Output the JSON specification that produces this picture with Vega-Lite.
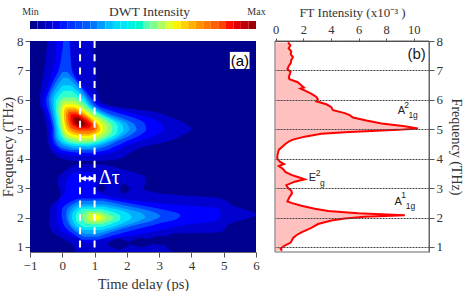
{
"$schema":"https://vega.github.io/schema/vega-lite/v6.json",
"padding":{"left":0,"top":4,"right":0,"bottom":0},
"background":"white",
"bounds":"flush",
"spacing":12,
"config":{"view":{"stroke":null},"font":"Liberation Serif","axis":{"labelFont":"Liberation Serif","titleFont":"Liberation Serif","labelColor":"#333","titleColor":"#333","tickColor":"#555","domainColor":"#666","grid":false,"titleFontWeight":"normal","labelOverlap":false,"tickCount":20,"format":"d"}},
"datasets":{
"heat":[
{"b":"bg","l":0,"f":0.83,"a":-1,"c":6},{"b":"bg","l":0,"f":8,"a":-1,"c":6},
{"b":"u1","l":1,"f":8,"a":-0.47,"c":0.95},{"b":"u1","l":1,"f":7.5,"a":-0.5,"c":0.95},{"b":"u1","l":1,"f":7,"a":-0.57,"c":1.05},{"b":"u1","l":1,"f":6.5,"a":-0.65,"c":1.05},{"b":"u1","l":1,"f":6,"a":-0.7,"c":1.15},{"b":"u1","l":1,"f":5.8,"a":-0.68,"c":1.5},{"b":"u1","l":1,"f":5.6,"a":-0.6,"c":2.8},{"b":"u1","l":1,"f":5.4,"a":-0.55,"c":3.4},{"b":"u1","l":1,"f":5.2,"a":-0.5,"c":3.8},{"b":"u1","l":1,"f":5,"a":-0.48,"c":4},{"b":"u1","l":1,"f":4.8,"a":-0.47,"c":3.7},{"b":"u1","l":1,"f":4.6,"a":-0.45,"c":3.3},{"b":"u1","l":1,"f":4.4,"a":-0.4,"c":2.5},{"b":"u1","l":1,"f":4.2,"a":-0.3,"c":2.1},{"b":"u1","l":1,"f":4,"a":0,"c":1.8},{"b":"u1","l":1,"f":3.92,"a":0.4,"c":1.1},
{"b":"d1","l":1,"f":3.8,"a":0.4,"c":1.3},{"b":"d1","l":1,"f":3.6,"a":0.1,"c":2},{"b":"d1","l":1,"f":3.4,"a":-0.1,"c":2.55},{"b":"d1","l":1,"f":3.2,"a":-0.15,"c":2.6},{"b":"d1","l":1,"f":3,"a":-0.1,"c":2.5},{"b":"d1","l":1,"f":2.8,"a":-0.05,"c":3.2},{"b":"d1","l":1,"f":2.65,"a":-0.1,"c":4.9},{"b":"d1","l":1,"f":2.4,"a":-0.35,"c":5.3},{"b":"d1","l":1,"f":2.1,"a":-0.4,"c":6},{"b":"d1","l":1,"f":1.8,"a":-0.4,"c":5.2},{"b":"d1","l":1,"f":1.5,"a":-0.3,"c":4.9},{"b":"d1","l":1,"f":1.45,"a":-0.25,"c":3.4},{"b":"d1","l":1,"f":1.3,"a":0,"c":3.2},{"b":"d1","l":1,"f":1.1,"a":0.3,"c":3.2},{"b":"d1","l":1,"f":0.9,"a":0.4,"c":3.3},{"b":"d1","l":1,"f":0.83,"a":0.4,"c":3.5},
{"b":"h1","l":0,"f":3.14,"a":1.23,"c":1.23},{"b":"h1","l":0,"f":3,"a":1.1,"c":1.36},{"b":"h1","l":0,"f":2.86,"a":1.23,"c":1.23},
{"b":"h2","l":0,"f":3.16,"a":1.93,"c":1.93},{"b":"h2","l":0,"f":2.98,"a":1.76,"c":2.1},{"b":"h2","l":0,"f":2.8,"a":1.93,"c":1.93},
{"b":"h3","l":0,"f":1.3,"a":1.75,"c":1.75},{"b":"h3","l":0,"f":1.1,"a":1.4,"c":2.1},{"b":"h3","l":0,"f":0.9,"a":1.75,"c":1.75},
{"b":"h4","l":0,"f":1.32,"a":2.45,"c":2.45},{"b":"h4","l":0,"f":1.15,"a":2.05,"c":2.85},{"b":"h4","l":0,"f":0.98,"a":2.45,"c":2.45},
{"b":"h5","l":0,"f":1.39,"a":3.05,"c":3.05},{"b":"h5","l":0,"f":1.22,"a":2.6,"c":3.5},{"b":"h5","l":0,"f":1.05,"a":3.05,"c":3.05},
{"b":"u2","l":2,"f":8,"a":-0.2,"c":0.27},{"b":"u2","l":2,"f":7.5,"a":-0.2,"c":0.27},{"b":"u2","l":2,"f":7,"a":-0.3,"c":0.35},{"b":"u2","l":2,"f":6.6,"a":-0.42,"c":0.6},{"b":"u2","l":2,"f":6.2,"a":-0.55,"c":0.9},{"b":"u2","l":2,"f":6,"a":-0.6,"c":1},{"b":"u2","l":2,"f":5.8,"a":-0.58,"c":1.25},{"b":"u2","l":2,"f":5.6,"a":-0.5,"c":2},{"b":"u2","l":2,"f":5.4,"a":-0.45,"c":2.7},{"b":"u2","l":2,"f":5.2,"a":-0.4,"c":3.05},{"b":"u2","l":2,"f":5,"a":-0.38,"c":3.15},{"b":"u2","l":2,"f":4.8,"a":-0.38,"c":2.9},{"b":"u2","l":2,"f":4.6,"a":-0.35,"c":2.4},{"b":"u2","l":2,"f":4.4,"a":-0.28,"c":1.9},{"b":"u2","l":2,"f":4.2,"a":-0.1,"c":1.5},{"b":"u2","l":2,"f":4.1,"a":0.3,"c":1},
{"b":"d2","l":2,"f":3.55,"a":0.4,"c":0.95},{"b":"d2","l":2,"f":3.3,"a":0.15,"c":1.05},{"b":"d2","l":2,"f":3,"a":0.1,"c":1},{"b":"d2","l":2,"f":2.8,"a":0.05,"c":1.2},{"b":"d2","l":2,"f":2.6,"a":-0.1,"c":2.1},{"b":"d2","l":2,"f":2.45,"a":-0.13,"c":3.3},{"b":"d2","l":2,"f":2.3,"a":-0.15,"c":4.85},{"b":"d2","l":2,"f":2.1,"a":-0.17,"c":4.9},{"b":"d2","l":2,"f":1.9,"a":-0.17,"c":4.8},{"b":"d2","l":2,"f":1.75,"a":-0.13,"c":3.8},{"b":"d2","l":2,"f":1.55,"a":-0.05,"c":2.9},{"b":"d2","l":2,"f":1.38,"a":0.25,"c":2.15},{"b":"d2","l":2,"f":1.25,"a":0.55,"c":1.2},{"b":"d2","l":2,"f":1.15,"a":0.7,"c":0.95},
{"b":"u3","l":3,"f":8,"a":0.03,"c":0.22},{"b":"u3","l":3,"f":7.5,"a":-0.02,"c":0.25},{"b":"u3","l":3,"f":7,"a":-0.12,"c":0.3},{"b":"u3","l":3,"f":6.6,"a":-0.3,"c":0.5},{"b":"u3","l":3,"f":6.2,"a":-0.45,"c":0.8},{"b":"u3","l":3,"f":6,"a":-0.5,"c":0.95},{"b":"u3","l":3,"f":5.8,"a":-0.48,"c":1.1},{"b":"u3","l":3,"f":5.6,"a":-0.42,"c":1.6},{"b":"u3","l":3,"f":5.4,"a":-0.37,"c":2.2},{"b":"u3","l":3,"f":5.2,"a":-0.33,"c":2.55},{"b":"u3","l":3,"f":5,"a":-0.3,"c":2.6},{"b":"u3","l":3,"f":4.8,"a":-0.3,"c":2.4},{"b":"u3","l":3,"f":4.6,"a":-0.27,"c":2},{"b":"u3","l":3,"f":4.4,"a":-0.15,"c":1.6},{"b":"u3","l":3,"f":4.25,"a":0.1,"c":1.2},{"b":"u3","l":3,"f":4.2,"a":0.5,"c":0.9},
{"b":"d3","l":3,"f":2.65,"a":0.5,"c":1.3},{"b":"d3","l":3,"f":2.5,"a":0.2,"c":2},{"b":"d3","l":3,"f":2.3,"a":0,"c":3},{"b":"d3","l":3,"f":2.1,"a":-0.02,"c":3.65},{"b":"d3","l":3,"f":1.95,"a":0,"c":3.55},{"b":"d3","l":3,"f":1.8,"a":0.03,"c":3},{"b":"d3","l":3,"f":1.6,"a":0.15,"c":2.3},{"b":"d3","l":3,"f":1.4,"a":0.4,"c":1.6},{"b":"d3","l":3,"f":1.25,"a":0.6,"c":1.1},
{"b":"u4","l":4,"f":6.95,"a":0,"c":0.15},{"b":"u4","l":4,"f":6.6,"a":-0.2,"c":0.45},{"b":"u4","l":4,"f":6.2,"a":-0.38,"c":0.72},{"b":"u4","l":4,"f":6,"a":-0.42,"c":0.85},{"b":"u4","l":4,"f":5.8,"a":-0.4,"c":1},{"b":"u4","l":4,"f":5.6,"a":-0.36,"c":1.3},{"b":"u4","l":4,"f":5.4,"a":-0.32,"c":1.8},{"b":"u4","l":4,"f":5.2,"a":-0.28,"c":2.2},{"b":"u4","l":4,"f":5,"a":-0.25,"c":2.3},{"b":"u4","l":4,"f":4.8,"a":-0.25,"c":2.1},{"b":"u4","l":4,"f":4.6,"a":-0.2,"c":1.7},{"b":"u4","l":4,"f":4.4,"a":-0.05,"c":1.3},{"b":"u4","l":4,"f":4.3,"a":0.25,"c":0.95},
{"b":"d4","l":4,"f":2.57,"a":0.55,"c":1.25},{"b":"d4","l":4,"f":2.4,"a":0.25,"c":2},{"b":"d4","l":4,"f":2.2,"a":0.13,"c":2.8},{"b":"d4","l":4,"f":2.05,"a":0.12,"c":3.03},{"b":"d4","l":4,"f":1.9,"a":0.15,"c":2.8},{"b":"d4","l":4,"f":1.7,"a":0.25,"c":2.1},{"b":"d4","l":4,"f":1.5,"a":0.45,"c":1.5},{"b":"d4","l":4,"f":1.35,"a":0.65,"c":1.1},
{"b":"u5","l":5,"f":6.75,"a":0.03,"c":0.17},{"b":"u5","l":5,"f":6.5,"a":-0.15,"c":0.42},{"b":"u5","l":5,"f":6.2,"a":-0.3,"c":0.65},{"b":"u5","l":5,"f":6,"a":-0.35,"c":0.78},{"b":"u5","l":5,"f":5.8,"a":-0.33,"c":0.92},{"b":"u5","l":5,"f":5.6,"a":-0.3,"c":1.2},{"b":"u5","l":5,"f":5.4,"a":-0.27,"c":1.6},{"b":"u5","l":5,"f":5.2,"a":-0.24,"c":2},{"b":"u5","l":5,"f":5,"a":-0.21,"c":2.08},{"b":"u5","l":5,"f":4.8,"a":-0.2,"c":1.9},{"b":"u5","l":5,"f":4.6,"a":-0.12,"c":1.55},{"b":"u5","l":5,"f":4.45,"a":0.05,"c":1.2},{"b":"u5","l":5,"f":4.35,"a":0.35,"c":0.85},
{"b":"d5","l":5,"f":2.45,"a":0.5,"c":1.3},{"b":"d5","l":5,"f":2.3,"a":0.3,"c":1.95},{"b":"d5","l":5,"f":2.15,"a":0.22,"c":2.45},{"b":"d5","l":5,"f":2.03,"a":0.2,"c":2.57},{"b":"d5","l":5,"f":1.9,"a":0.22,"c":2.4},{"b":"d5","l":5,"f":1.7,"a":0.32,"c":1.85},{"b":"d5","l":5,"f":1.55,"a":0.5,"c":1.4},{"b":"d5","l":5,"f":1.45,"a":0.7,"c":1.05},
{"b":"u6","l":6,"f":6.5,"a":0.02,"c":0.25},{"b":"u6","l":6,"f":6.2,"a":-0.2,"c":0.58},{"b":"u6","l":6,"f":6,"a":-0.27,"c":0.72},{"b":"u6","l":6,"f":5.8,"a":-0.27,"c":0.85},{"b":"u6","l":6,"f":5.6,"a":-0.24,"c":1.1},{"b":"u6","l":6,"f":5.4,"a":-0.22,"c":1.45},{"b":"u6","l":6,"f":5.2,"a":-0.19,"c":1.82},{"b":"u6","l":6,"f":5,"a":-0.16,"c":1.9},{"b":"u6","l":6,"f":4.8,"a":-0.14,"c":1.75},{"b":"u6","l":6,"f":4.6,"a":-0.04,"c":1.42},{"b":"u6","l":6,"f":4.5,"a":0.1,"c":1.15},{"b":"u6","l":6,"f":4.42,"a":0.4,"c":0.82},
{"b":"d6","l":6,"f":2.38,"a":0.55,"c":1.25},{"b":"d6","l":6,"f":2.25,"a":0.38,"c":1.8},{"b":"d6","l":6,"f":2.1,"a":0.31,"c":2.1},{"b":"d6","l":6,"f":2,"a":0.3,"c":2.15},{"b":"d6","l":6,"f":1.85,"a":0.35,"c":1.95},{"b":"d6","l":6,"f":1.7,"a":0.45,"c":1.6},{"b":"d6","l":6,"f":1.58,"a":0.65,"c":1.2},
{"b":"u7","l":7,"f":6.3,"a":0.03,"c":0.3},{"b":"u7","l":7,"f":6.1,"a":-0.13,"c":0.55},{"b":"u7","l":7,"f":5.9,"a":-0.2,"c":0.72},{"b":"u7","l":7,"f":5.7,"a":-0.2,"c":0.9},{"b":"u7","l":7,"f":5.5,"a":-0.18,"c":1.2},{"b":"u7","l":7,"f":5.3,"a":-0.15,"c":1.55},{"b":"u7","l":7,"f":5.1,"a":-0.12,"c":1.72},{"b":"u7","l":7,"f":4.9,"a":-0.08,"c":1.7},{"b":"u7","l":7,"f":4.7,"a":0,"c":1.45},{"b":"u7","l":7,"f":4.55,"a":0.15,"c":1.1},{"b":"u7","l":7,"f":4.48,"a":0.45,"c":0.8},
{"b":"d7","l":7,"f":2.3,"a":0.6,"c":1.2},{"b":"d7","l":7,"f":2.18,"a":0.47,"c":1.6},{"b":"d7","l":7,"f":2.05,"a":0.42,"c":1.8},{"b":"d7","l":7,"f":1.95,"a":0.42,"c":1.8},{"b":"d7","l":7,"f":1.8,"a":0.5,"c":1.55},{"b":"d7","l":7,"f":1.68,"a":0.68,"c":1.2},
{"b":"u8","l":8,"f":6.08,"a":0.04,"c":0.4},{"b":"u8","l":8,"f":5.9,"a":-0.11,"c":0.62},{"b":"u8","l":8,"f":5.7,"a":-0.13,"c":0.82},{"b":"u8","l":8,"f":5.5,"a":-0.12,"c":1.08},{"b":"u8","l":8,"f":5.3,"a":-0.1,"c":1.38},{"b":"u8","l":8,"f":5.1,"a":-0.07,"c":1.55},{"b":"u8","l":8,"f":4.9,"a":-0.02,"c":1.52},{"b":"u8","l":8,"f":4.7,"a":0.08,"c":1.28},{"b":"u8","l":8,"f":4.58,"a":0.3,"c":1},{"b":"u8","l":8,"f":4.54,"a":0.5,"c":0.8},
{"b":"d8","l":8,"f":2.22,"a":0.75,"c":1.15},{"b":"d8","l":8,"f":2.1,"a":0.62,"c":1.45},{"b":"d8","l":8,"f":2,"a":0.62,"c":1.6},{"b":"d8","l":8,"f":1.9,"a":0.65,"c":1.5},{"b":"d8","l":8,"f":1.78,"a":0.8,"c":1.2},
{"b":"u9","l":9,"f":5.95,"a":0.05,"c":0.38},{"b":"u9","l":9,"f":5.8,"a":-0.04,"c":0.6},{"b":"u9","l":9,"f":5.6,"a":-0.06,"c":0.82},{"b":"u9","l":9,"f":5.4,"a":-0.05,"c":1.1},{"b":"u9","l":9,"f":5.2,"a":-0.03,"c":1.35},{"b":"u9","l":9,"f":5,"a":0,"c":1.4},{"b":"u9","l":9,"f":4.85,"a":0.05,"c":1.32},{"b":"u9","l":9,"f":4.7,"a":0.2,"c":1.1},{"b":"u9","l":9,"f":4.62,"a":0.5,"c":0.85},
{"b":"d9","l":9,"f":2.15,"a":0.85,"c":1.15},{"b":"d9","l":9,"f":2.05,"a":0.76,"c":1.3},{"b":"d9","l":9,"f":1.97,"a":0.76,"c":1.35},{"b":"d9","l":9,"f":1.87,"a":0.9,"c":1.15},
{"b":"u10","l":10,"f":5.85,"a":0.1,"c":0.4},{"b":"u10","l":10,"f":5.7,"a":0,"c":0.62},{"b":"u10","l":10,"f":5.5,"a":0,"c":0.85},{"b":"u10","l":10,"f":5.3,"a":0,"c":1.1},{"b":"u10","l":10,"f":5.1,"a":0.03,"c":1.25},{"b":"u10","l":10,"f":4.95,"a":0.08,"c":1.25},{"b":"u10","l":10,"f":4.8,"a":0.2,"c":1.1},{"b":"u10","l":10,"f":4.7,"a":0.5,"c":0.85},
{"b":"d10","l":10,"f":2.08,"a":0.95,"c":1.12},{"b":"d10","l":10,"f":2,"a":0.92,"c":1.2},{"b":"d10","l":10,"f":1.92,"a":1,"c":1.12},
{"b":"u11","l":11,"f":5.75,"a":0.12,"c":0.4},{"b":"u11","l":11,"f":5.6,"a":0.05,"c":0.65},{"b":"u11","l":11,"f":5.4,"a":0.05,"c":0.88},{"b":"u11","l":11,"f":5.2,"a":0.08,"c":1.1},{"b":"u11","l":11,"f":5,"a":0.13,"c":1.18},{"b":"u11","l":11,"f":4.85,"a":0.28,"c":1.05},{"b":"u11","l":11,"f":4.78,"a":0.55,"c":0.82},
{"b":"u12","l":12,"f":5.67,"a":0.18,"c":0.42},{"b":"u12","l":12,"f":5.5,"a":0.11,"c":0.68},{"b":"u12","l":12,"f":5.3,"a":0.12,"c":0.92},{"b":"u12","l":12,"f":5.1,"a":0.17,"c":1.1},{"b":"u12","l":12,"f":4.95,"a":0.28,"c":1.05},{"b":"u12","l":12,"f":4.85,"a":0.55,"c":0.85},
{"b":"u13","l":13,"f":5.6,"a":0.22,"c":0.42},{"b":"u13","l":13,"f":5.45,"a":0.17,"c":0.66},{"b":"u13","l":13,"f":5.25,"a":0.2,"c":0.9},{"b":"u13","l":13,"f":5.05,"a":0.28,"c":1.02},{"b":"u13","l":13,"f":4.95,"a":0.5,"c":0.9},
{"b":"u14","l":14,"f":5.52,"a":0.27,"c":0.45},{"b":"u14","l":14,"f":5.35,"a":0.25,"c":0.7},{"b":"u14","l":14,"f":5.15,"a":0.32,"c":0.9},{"b":"u14","l":14,"f":5.03,"a":0.5,"c":0.82},
{"b":"u15","l":15,"f":5.45,"a":0.33,"c":0.48},{"b":"u15","l":15,"f":5.3,"a":0.32,"c":0.68},{"b":"u15","l":15,"f":5.15,"a":0.4,"c":0.8},{"b":"u15","l":15,"f":5.07,"a":0.55,"c":0.72},
{"b":"u16","l":16,"f":5.38,"a":0.38,"c":0.5},{"b":"u16","l":16,"f":5.25,"a":0.38,"c":0.65},{"b":"u16","l":16,"f":5.14,"a":0.5,"c":0.68}
],
"spectrum":[
{"f":7.95,"i":0.9},{"f":7.85,"i":1.06},{"f":7.75,"i":0.94},{"f":7.65,"i":1.13},{"f":7.55,"i":1.09},{"f":7.45,"i":1.25},{"f":7.35,"i":1.13},{"f":7.25,"i":1.09},{"f":7.15,"i":0.95},{"f":7.05,"i":0.85},{"f":6.95,"i":1.08},{"f":6.85,"i":1},{"f":6.75,"i":0.95},{"f":6.7,"i":1},{"f":6.6,"i":1.6},{"f":6.5,"i":1.85},{"f":6.42,"i":2.05},{"f":6.38,"i":1.8},{"f":6.3,"i":2.2},{"f":6.2,"i":2.6},{"f":6.1,"i":2.95},{"f":6.02,"i":3.05},{"f":5.95,"i":2.95},{"f":5.85,"i":3.67},{"f":5.75,"i":4.03},{"f":5.65,"i":4.15},{"f":5.55,"i":5},{"f":5.48,"i":5.36},{"f":5.4,"i":5.6},{"f":5.3,"i":6.57},{"f":5.2,"i":7.66},{"f":5.1,"i":9.35},{"f":5.03,"i":10.3},{"f":4.98,"i":8.86},{"f":4.9,"i":5},{"f":4.85,"i":3.3},{"f":4.75,"i":2.1},{"f":4.65,"i":1.25},{"f":4.6,"i":1},{"f":4.5,"i":0.7},{"f":4.3,"i":0.22},{"f":4.1,"i":0.12},{"f":4,"i":0.12},{"f":3.9,"i":0.3},{"f":3.82,"i":0.6},{"f":3.75,"i":0.22},{"f":3.65,"i":0.53},{"f":3.55,"i":0.7},{"f":3.45,"i":1.13},{"f":3.38,"i":1.6},{"f":3.3,"i":2.1},{"f":3.22,"i":1.38},{"f":3.1,"i":0.77},{"f":3,"i":0.9},{"f":2.92,"i":1.13},{"f":2.82,"i":1.18},{"f":2.7,"i":1},{"f":2.55,"i":0.85},{"f":2.5,"i":1.13},{"f":2.4,"i":1.86},{"f":2.3,"i":2.83},{"f":2.22,"i":3.8},{"f":2.15,"i":5.96},{"f":2.08,"i":9.35},{"f":2.03,"i":6.45},{"f":1.97,"i":5},{"f":1.9,"i":4.03},{"f":1.78,"i":3.07},{"f":1.65,"i":2.58},{"f":1.5,"i":1.86},{"f":1.4,"i":1.5},{"f":1.3,"i":1.25},{"f":1.15,"i":1.09},{"f":1.05,"i":0.65},{"f":0.95,"i":0.36},{"f":0.87,"i":0.45}
],
"bar":[
{"v":0,"w":0.033},{"v":0.033,"w":0.067},{"v":0.067,"w":0.1},{"v":0.1,"w":0.133},{"v":0.133,"w":0.167},{"v":0.167,"w":0.2},{"v":0.2,"w":0.233},{"v":0.233,"w":0.267},{"v":0.267,"w":0.3},{"v":0.3,"w":0.333},{"v":0.333,"w":0.367},{"v":0.367,"w":0.4},{"v":0.4,"w":0.433},{"v":0.433,"w":0.467},{"v":0.467,"w":0.5},{"v":0.5,"w":0.533},{"v":0.533,"w":0.567},{"v":0.567,"w":0.6},{"v":0.6,"w":0.633},{"v":0.633,"w":0.667},{"v":0.667,"w":0.7},{"v":0.7,"w":0.733},{"v":0.733,"w":0.767},{"v":0.767,"w":0.8},{"v":0.8,"w":0.833},{"v":0.833,"w":0.867},{"v":0.867,"w":0.9},{"v":0.9,"w":0.933},{"v":0.933,"w":0.967},{"v":0.967,"w":1}
]
},
"vconcat":[
{"width":226,"height":8,"data":{"name":"bar"},
 "mark":{"type":"rect"},
 "encoding":{
  "x":{"field":"v","type":"quantitative","scale":{"domain":[0,1],"nice":false},
   "axis":{"orient":"top","values":[0,1],"labelExpr":"datum.value==0?'Min':'Max'","labelFontSize":10,"labelAlign":"center","labelPadding":5,"labelFlush":false,"ticks":false,"domain":false,"title":"DWT Intensity","titleFontSize":13.5,"titlePadding":-6,"titleX":119,"titleY":-3}},
  "x2":{"field":"w"},
  "color":{"field":"v","type":"quantitative","legend":null,"scale":{"domain":[0,0.12,0.25,0.37,0.5,0.62,0.75,0.87,1],"range":["#00008f","#0000ff","#0060ff","#00dfff","#50ffaf","#ffff00","#ff8000","#ff0000","#800000"]}}
 }},
{"hconcat":[
 {"width":226,"height":211,
  "layer":[
   {"data":{"name":"heat"},
    "mark":{"type":"area","orient":"horizontal","interpolate":"monotone","clip":true},
    "encoding":{
     "y":{"field":"f","type":"quantitative","scale":{"domain":[0.83,8],"nice":false},"axis":{"values":[1,2,3,4,5,6,7,8],"labelFontSize":13,"title":"Frequency (THz)","titleFontSize":14.5,"titlePadding":1,"tickSize":5,"domain":true}},
     "x":{"field":"a","type":"quantitative","scale":{"domain":[-1,6],"nice":false},"axis":{"values":[-1,0,1,2,3,4,5,6],"labelFontSize":13,"title":"Time delay (ps)","titleFontSize":14.5,"titlePadding":5,"tickSize":5,"labelFlush":false}},
     "x2":{"field":"c"},
     "detail":{"field":"b"},
     "color":{"field":"l","type":"ordinal","legend":null,"scale":{"domain":[0,1,2,3,4,5,6,7,8,9,10,11,12,13,14,15,16],"range":["#00008f","#0000cf","#0000ff","#0040ff","#0080ff","#00b0ff","#00e0ff","#30ffd0","#80ff80","#c0ff40","#ffff00","#ffc000","#ff8000","#ff4000","#ff0000","#c00000","#800000"]}}
    }},
   {"data":{"values":[{"t":0.55,"f":0.97,"g":8},{"t":1,"f":0.97,"g":8}]},
    "mark":{"type":"rule","color":"white","strokeWidth":2,"strokeDash":[7,6.3]},
    "encoding":{"x":{"field":"t","type":"quantitative"},"y":{"field":"g","type":"quantitative"},"y2":{"field":"f"}}},
   {"data":{"values":[{"t":0.55,"u":1,"f":3.33}]},
    "mark":{"type":"rule","color":"white","strokeWidth":2},
    "encoding":{"x":{"field":"t","type":"quantitative"},"x2":{"field":"u"},"y":{"field":"f","type":"quantitative"}}},
   {"data":{"values":[{"t":0.55,"f":3.2,"g":3.45},{"t":1,"f":3.2,"g":3.45}]},
    "mark":{"type":"rule","color":"white","strokeWidth":2},
    "encoding":{"x":{"field":"t","type":"quantitative"},"y":{"field":"f","type":"quantitative"},"y2":{"field":"g"}}},
   {"data":{"values":[{"t":0.65,"f":3.33,"s":"triangle-left"},{"t":0.9,"f":3.33,"s":"triangle-right"}]},
    "mark":{"type":"point","filled":true,"size":35,"color":"white","opacity":1},
    "encoding":{"x":{"field":"t","type":"quantitative"},"y":{"field":"f","type":"quantitative"},"shape":{"field":"s","type":"nominal","scale":null,"legend":null}}},
   {"data":{"values":[{"t":1.13,"f":3.33,"s":"Δτ"}]},
    "mark":{"type":"text","color":"white","fontSize":20,"align":"left","baseline":"middle","font":"Liberation Serif"},
    "encoding":{"x":{"field":"t","type":"quantitative"},"y":{"field":"f","type":"quantitative"},"text":{"field":"s"}}},
   {"data":{"values":[{"t":5.19,"u":5.8,"f":7.63,"g":7.05}]},
    "mark":{"type":"rect","color":"white"},
    "encoding":{"x":{"field":"t","type":"quantitative"},"x2":{"field":"u"},"y":{"field":"f","type":"quantitative"},"y2":{"field":"g"}}},
   {"data":{"values":[{"t":5.5,"f":7.33,"s":"(a)"}]},
    "mark":{"type":"text","color":"black","fontSize":15,"align":"center","baseline":"middle","font":"Liberation Sans"},
    "encoding":{"x":{"field":"t","type":"quantitative"},"y":{"field":"f","type":"quantitative"},"text":{"field":"s"}}}
  ]
 },
 {"width":154,"height":211,"data":{"name":"spectrum"},
  "layer":[
   {"mark":{"type":"area","orient":"horizontal","color":"#ffc0c0","opacity":1},
    "encoding":{
     "y":{"field":"f","type":"quantitative","scale":{"domain":[0.83,8],"nice":false},"axis":{"orient":"right","values":[1,2,3,4,5,6,7,8],"labelFontSize":13,"title":"Frequency (THz)","titleFontSize":14,"titleAngle":90,"titlePadding":6,"tickSize":5,"grid":true,"gridColor":"#444","gridDash":[2,1],"gridWidth":1,"zindex":1}},
     "x":{"field":"i","type":"quantitative","scale":{"domain":[-0.05,11.1],"nice":false,"zero":false},"axis":{"orient":"top","values":[0,2,4,6,8,10],"labelFontSize":12.5,"title":"FT  Intensity (x10⁻³ )","titleFontSize":13,"titlePadding":4,"tickSize":3,"labelFlush":false}},
     "x2":{"datum":0}
    }},
   {"mark":{"type":"line","orient":"horizontal","color":"#ff0000","strokeWidth":2},
    "encoding":{"y":{"field":"f","type":"quantitative"},"x":{"field":"i","type":"quantitative"}}},
   {"data":{"values":[
     {"i":9.1,"f":5.61,"s":"A","z":"m"},{"i":9.47,"f":5.82,"s":"2","z":"s"},{"i":9.95,"f":5.48,"s":"1g","z":"s"},
     {"i":2.66,"f":3.33,"s":"E","z":"m"},{"i":3.07,"f":3.53,"s":"2","z":"s"},{"i":3.38,"f":3.17,"s":"g","z":"s"},
     {"i":8.86,"f":2.53,"s":"A","z":"m"},{"i":9.27,"f":2.77,"s":"1","z":"s"},{"i":9.76,"f":2.4,"s":"1g","z":"s"}]},
    "mark":{"type":"text","font":"Liberation Sans","color":"#222","align":"center","baseline":"middle"},
    "encoding":{"x":{"field":"i","type":"quantitative"},"y":{"field":"f","type":"quantitative"},"text":{"field":"s"},
     "size":{"field":"z","type":"nominal","legend":null,"scale":{"domain":["m","s"],"range":[11,8.5]}}}},
   {"data":{"values":[{"i":10.2,"f":7.55,"s":"(b)"}]},
    "mark":{"type":"text","color":"#222","fontSize":15,"align":"center","baseline":"middle","font":"Liberation Sans"},
    "encoding":{"x":{"field":"i","type":"quantitative"},"y":{"field":"f","type":"quantitative"},"text":{"field":"s"}}},
   {"data":{"values":[{"a":-0.05,"b":11.1,"f":0.83,"g":8}]},
    "mark":{"type":"rect","fillOpacity":0,"stroke":"#666","strokeWidth":1},
    "encoding":{"x":{"field":"a","type":"quantitative"},"x2":{"field":"b"},"y":{"field":"f","type":"quantitative"},"y2":{"field":"g"}}}
  ]
 }
],"bounds":"flush","spacing":19}
]
}
